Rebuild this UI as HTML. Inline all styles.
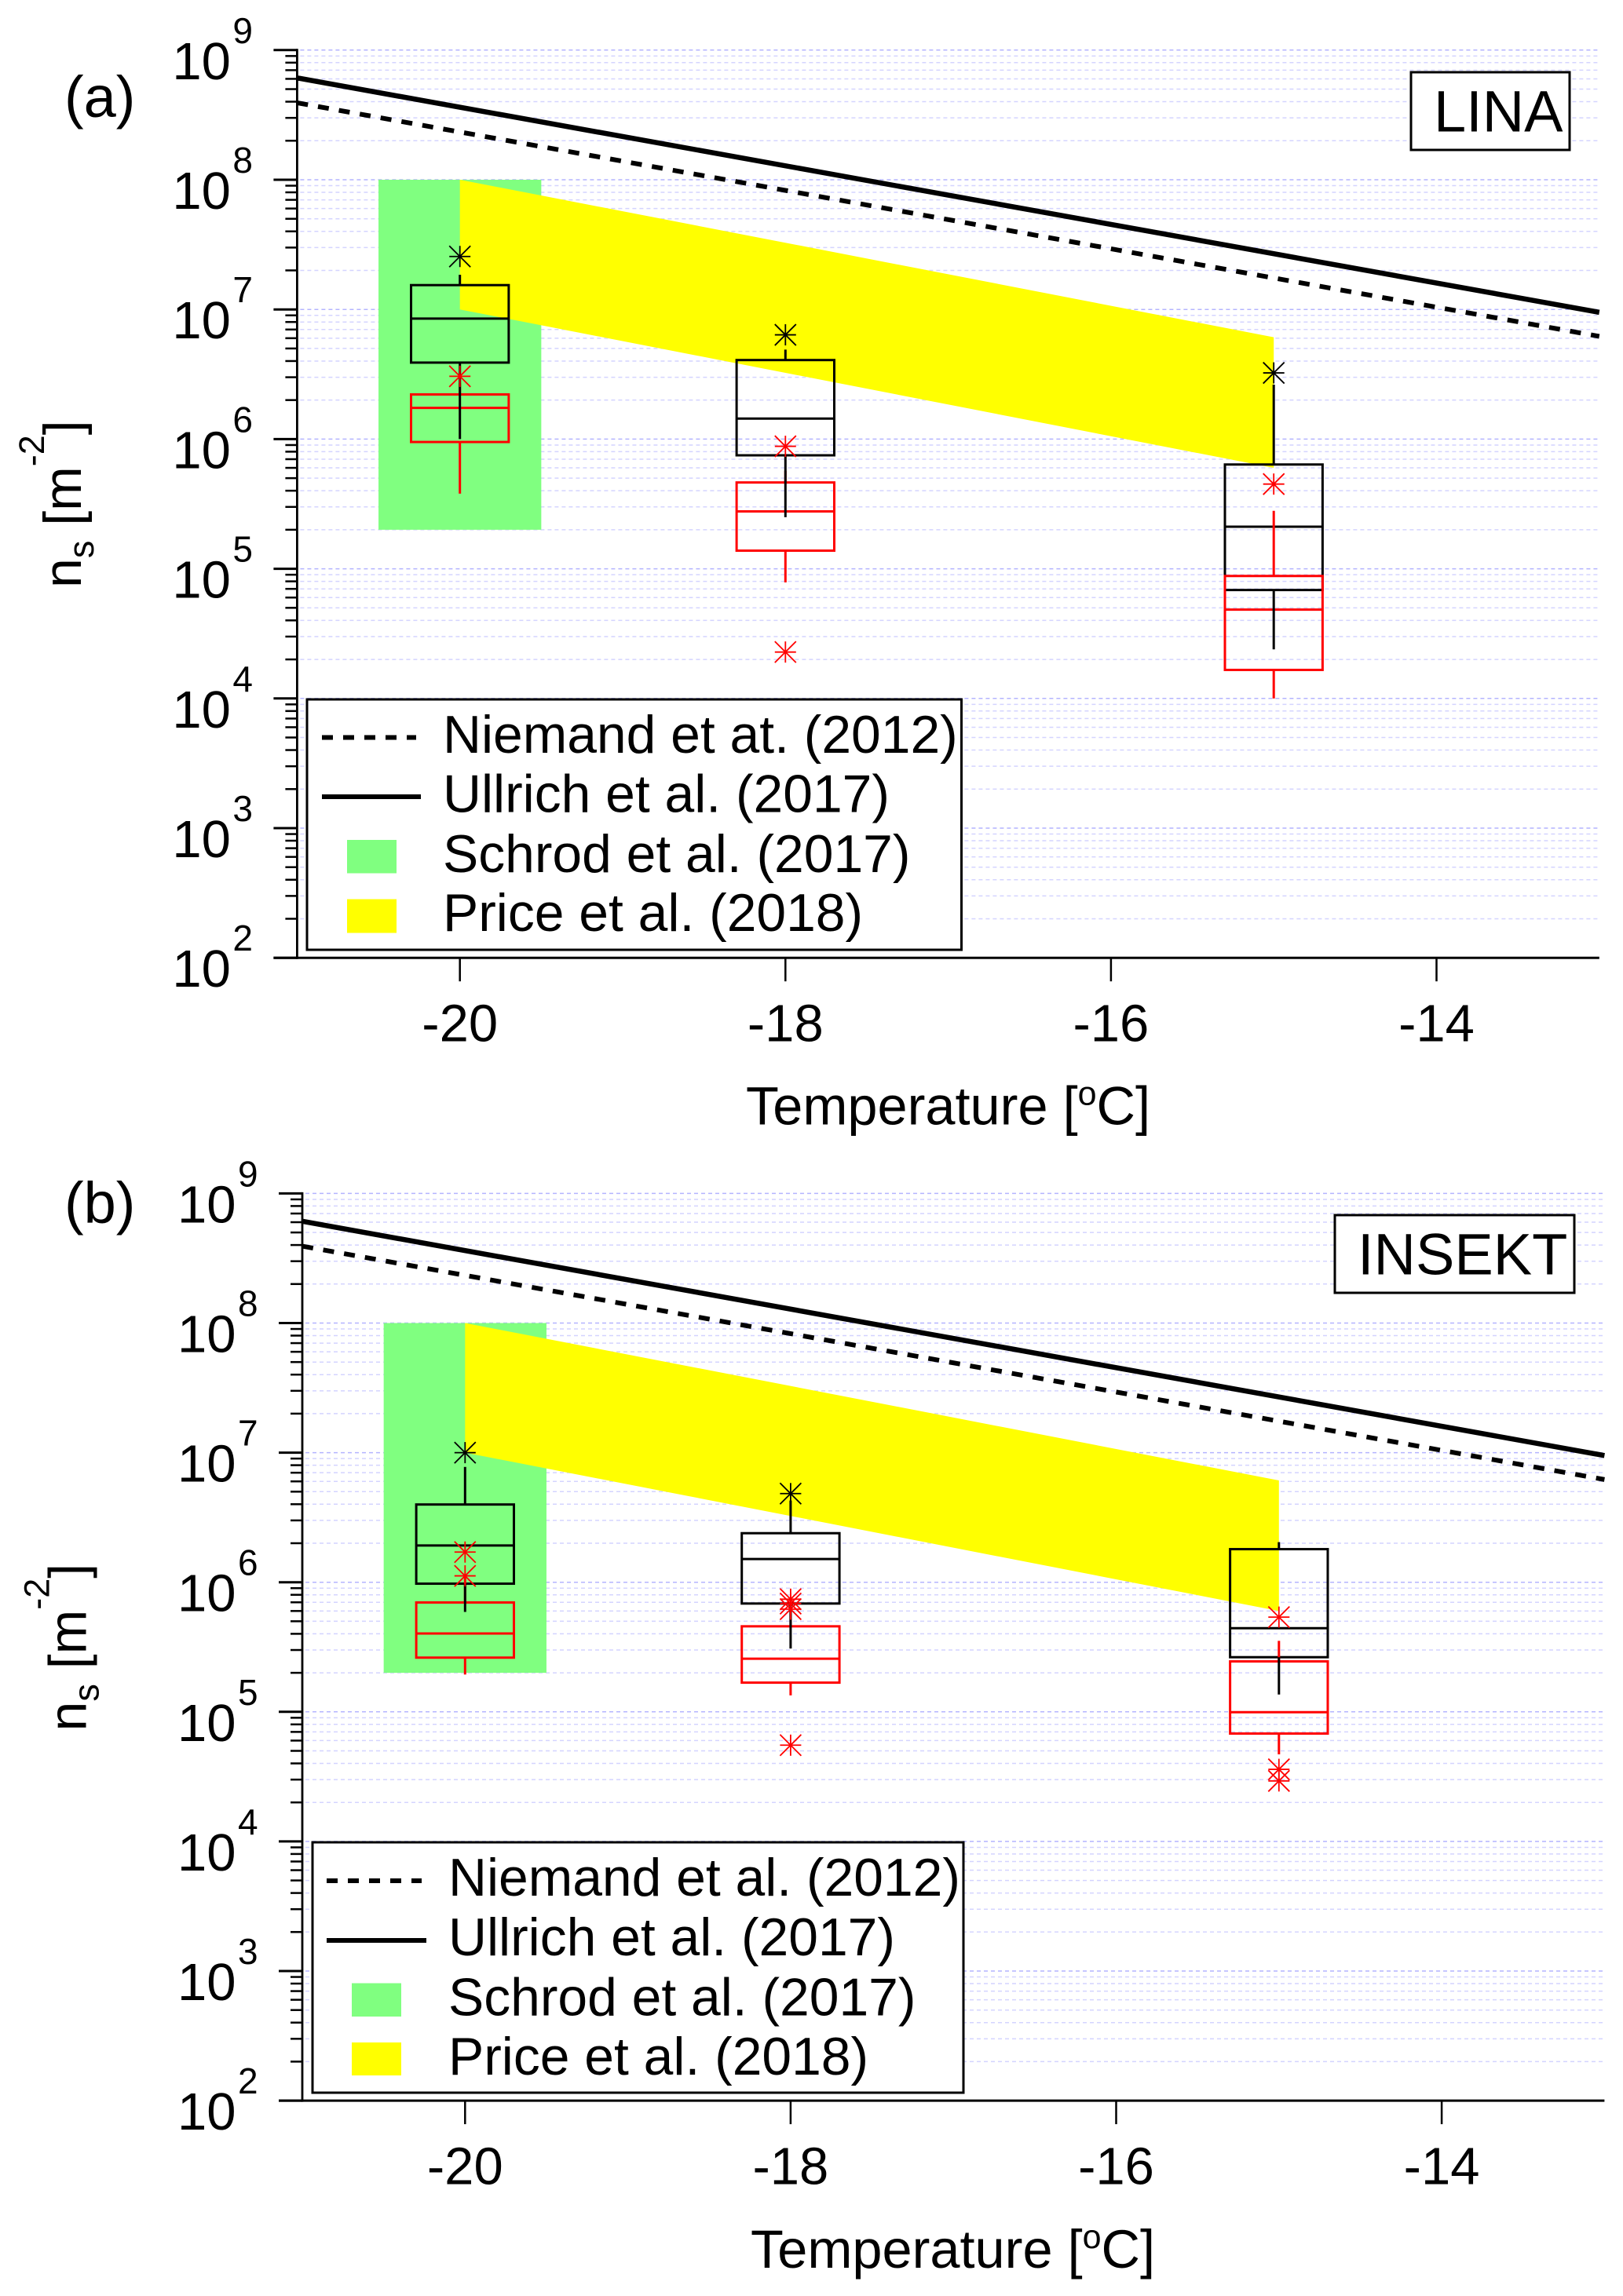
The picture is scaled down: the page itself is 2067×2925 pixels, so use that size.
<!DOCTYPE html>
<html lang="en">
<head>
<meta charset="utf-8">
<title>Ice nucleation site density: LINA and INSEKT</title>
<style>
html,body{margin:0;padding:0;background:#fff;}
svg{display:block;}
text{font-family:"Liberation Sans",Arial,sans-serif;fill:#000;}
</style>
</head>
<body>
<svg id="figure" width="2067" height="2925" viewBox="0 0 2067 2925" xmlns="http://www.w3.org/2000/svg">
  <rect x="0" y="0" width="2067" height="2925" fill="#fff"/>
  <g id="panel-a"></g>
  <g id="panel-b"></g>

  <g id="overlay-a">
    <text x="82" y="149" font-size="74">(a)</text>
    <g>
      <rect x="1797" y="92" width="202" height="99" fill="#fff" stroke="#000" stroke-width="3"/>
      <text x="1826" y="167.5" font-size="74">LINA</text>
    </g>
    <g>
      <rect x="391" y="891" width="833.5" height="319" fill="#fff" stroke="#000" stroke-width="3"/>
      <line x1="410" y1="939.5" x2="530" y2="939.5" stroke="#000" stroke-width="6" stroke-dasharray="14 13"/>
      <text x="564" y="959" font-size="67.8">Niemand et at. (2012)</text>
      <line x1="410" y1="1015" x2="536" y2="1015" stroke="#000" stroke-width="6"/>
      <text x="564" y="1034.5" font-size="67.8">Ullrich et al. (2017)</text>
      <rect x="442" y="1070" width="63" height="42.5" fill="#80ff80"/>
      <text x="564" y="1111" font-size="67.8">Schrod et al. (2017)</text>
      <rect x="442" y="1145.5" width="63" height="43" fill="#ffff00"/>
      <text x="564" y="1186" font-size="67.8">Price et al. (2018)</text>
    </g>
    <text x="950" y="1432.5" font-size="68.5">Temperature [<tspan font-size="43" dy="-25">o</tspan><tspan dy="25">C]</tspan></text>
    <text transform="translate(103 749) rotate(-90)" font-size="68">n<tspan font-size="45" dy="16">s</tspan><tspan dy="-16" xml:space="preserve"> [m</tspan><tspan font-size="45" dy="-47">-2</tspan><tspan dy="47">]</tspan></text>
  </g>

  <g id="overlay-b">
    <text x="82" y="1558" font-size="74">(b)</text>
    <g>
      <rect x="1700" y="1548" width="305" height="99" fill="#fff" stroke="#000" stroke-width="3"/>
      <text x="1729" y="1623.5" font-size="74">INSEKT</text>
    </g>
    <g>
      <rect x="398" y="2347" width="829" height="319" fill="#fff" stroke="#000" stroke-width="3"/>
      <line x1="416" y1="2396" x2="537" y2="2396" stroke="#000" stroke-width="6" stroke-dasharray="14 13"/>
      <text x="571" y="2415" font-size="67.8">Niemand et al. (2012)</text>
      <line x1="416" y1="2472" x2="543" y2="2472" stroke="#000" stroke-width="6"/>
      <text x="571" y="2491" font-size="67.8">Ullrich et al. (2017)</text>
      <rect x="448" y="2526.5" width="63" height="42.5" fill="#80ff80"/>
      <text x="571" y="2567.5" font-size="67.8">Schrod et al. (2017)</text>
      <rect x="448" y="2602" width="63" height="42" fill="#ffff00"/>
      <text x="571" y="2643" font-size="67.8">Price et al. (2018)</text>
    </g>
    <text x="956" y="2889" font-size="68.5">Temperature [<tspan font-size="43" dy="-25">o</tspan><tspan dy="25">C]</tspan></text>
    <text transform="translate(109.5 2205.5) rotate(-90)" font-size="68">n<tspan font-size="45" dy="16">s</tspan><tspan dy="-16" xml:space="preserve"> [m</tspan><tspan font-size="45" dy="-47">-2</tspan><tspan dy="47">]</tspan></text>
  </g>
</svg>

<script>
// Axis tick labels
const xTickLabels = [-20, -18, -16, -14];
const yTickExponents = [2, 3, 4, 5, 6, 7, 8, 9];
const minorMultipliers = [2, 3, 4, 5, 6, 7, 8, 9];

// Box categories (temperature, deg C)
const boxTemps = [-20, -18, -15];

// Parameterisation lines
const lineTemps = [-21, -13];
const ullrichValues = [6.1e8, 9.5e6];
const niemandValues = [3.92e8, 6.2e6];

// Schrod et al. (2017) range
const schrodTemps = [-20.5, -19.5];
const schrodRange = [2e5, 1e8];

// Price et al. (2018) band
const priceTemps = [-20, -15];
const priceUpper = [1e8, 6.1e6];
const priceLower = [1e7, 6e5];

// Panel (a) LINA: black series
const linaBlackQ3 = [1.54e7, 4.07e6, 6.37e5];
const linaBlackMedian = [8.5e6, 1.44e6, 2.11e5];
const linaBlackQ1 = [3.89e6, 7.5e5, 6.86e4];
const linaBlackWhiskerHigh = [1.85e7, 4.9e6, 2.63e6];
const linaBlackWhiskerLow = [1e6, 2.5e5, 2.39e4];
const linaBlackOutliers = [[2.56e7], [6.37e6], [3.24e6]];

// Panel (a) LINA: red series
const linaRedQ3 = [2.21e6, 4.63e5, 8.8e4];
const linaRedMedian = [1.74e6, 2.77e5, 4.84e4];
const linaRedQ1 = [9.5e5, 1.38e5, 1.66e4];
const linaRedWhiskerHigh = [2.7e6, 5.69e5, 2.8e5];
const linaRedWhiskerLow = [3.8e5, 7.85e4, 1e4];
const linaRedOutliers = [[3.05e6], [8.8e5, 2.28e4], [4.5e5]];

// Panel (b) INSEKT: black series
const insektBlackQ3 = [3.98e6, 2.39e6, 1.8e6];
const insektBlackMedian = [1.92e6, 1.51e6, 4.42e5];
const insektBlackQ1 = [9.75e5, 6.85e5, 2.64e5];
const insektBlackWhiskerHigh = [7.76e6, 4.27e6, 2.04e6];
const insektBlackWhiskerLow = [5.9e5, 3.08e5, 1.36e5];
const insektBlackOutliers = [[1e7], [4.83e6], []];

// Panel (b) INSEKT: red series
const insektRedQ3 = [6.98e5, 4.57e5, 2.45e5];
const insektRedMedian = [4.02e5, 2.57e5, 9.93e4];
const insektRedQ1 = [2.62e5, 1.68e5, 6.8e4];
const insektRedWhiskerHigh = [1.13e6, 7e5, 3.53e5];
const insektRedWhiskerLow = [1.94e5, 1.34e5, 4.7e4];
const insektRedOutliers = [[1.71e6, 1.12e6], [7.4e5, 6.85e5, 6.2e5, 5.53e4], [5.38e5, 3.6e4, 2.93e4]];

const SVG_NS = 'http://www.w3.org/2000/svg';

function make(tag, parent, attrs) {
  const el = document.createElementNS(SVG_NS, tag);
  for (const k in attrs) el.setAttribute(k, attrs[k]);
  parent.appendChild(el);
  return el;
}

function drawPanel(root, frame, black, red) {
  const xScale = t => frame.x20 + (t + 20) * frame.unit;
  const yScale = v => frame.top + (9 - Math.log10(v)) * frame.decade;
  const xLeft = xScale(-21);
  const xRight = xScale(-13);
  const yBottom = yScale(1e2);
  const yTop = yScale(1e9);
  const halfWidth = 0.3;

  // grid
  const grid = make('g', root, {});
  
  
  yTickExponents.forEach(exp => {
    const major = make('line', grid, {
      x1: xLeft + 4, x2: xRight, y1: yScale(Math.pow(10, exp)), y2: yScale(Math.pow(10, exp)),
      stroke: '#b4b4ff', 'stroke-width': 1.5, 'stroke-dasharray': '5 4'
    });
    
    
    if (exp === 9) return;
    minorMultipliers.forEach(m => {
      const minor = make('line', grid, {
        x1: xLeft + 4, x2: xRight, y1: yScale(m * Math.pow(10, exp)), y2: yScale(m * Math.pow(10, exp)),
        stroke: '#d4d4ff', 'stroke-width': 1.5, 'stroke-dasharray': '5 4'
      });
      
      
    });
  });

  // Schrod range
  const schrod = make('rect', root, {
    x: xScale(schrodTemps[0]), y: yScale(schrodRange[1]),
    width: xScale(schrodTemps[1]) - xScale(schrodTemps[0]),
    height: yScale(schrodRange[0]) - yScale(schrodRange[1]),
    fill: '#80ff80'
  });
  
  

  // Price band
  const bandPoints = [
    [xScale(priceTemps[0]), yScale(priceUpper[0])],
    [xScale(priceTemps[1]), yScale(priceUpper[1])],
    [xScale(priceTemps[1]), yScale(priceLower[1])],
    [xScale(priceTemps[0]), yScale(priceLower[0])]
  ];
  const price = make('polygon', root, { points: bandPoints.map(p => p.join(',')).join(' '), fill: '#ffff00' });
  
  

  function drawBox(series, i, color, parent) {
    const t = boxTemps[i];
    const rect = make('rect', parent, {
      x: xScale(t - halfWidth), y: yScale(series.q3[i]),
      width: xScale(t + halfWidth) - xScale(t - halfWidth),
      height: yScale(series.q1[i]) - yScale(series.q3[i]),
      fill: 'none', stroke: color, 'stroke-width': 3
    });
    
    
    const med = make('line', parent, {
      x1: xScale(t - halfWidth), x2: xScale(t + halfWidth),
      y1: yScale(series.median[i]), y2: yScale(series.median[i]),
      stroke: color, 'stroke-width': 3
    });
    
    
  }

  function drawWhiskers(series, i, color, parent) {
    const t = boxTemps[i];
    const upper = make('line', parent, {
      x1: xScale(t), x2: xScale(t), y1: yScale(series.whiskerHigh[i]), y2: yScale(series.q3[i]),
      stroke: color, 'stroke-width': 3
    });
    
    
    const lower = make('line', parent, {
      x1: xScale(t), x2: xScale(t), y1: yScale(series.q1[i]), y2: yScale(series.whiskerLow[i]),
      stroke: color, 'stroke-width': 3
    });
    
    
  }

  function drawOutliers(series, i, color, parent) {
    const t = boxTemps[i];
    const r = 13.5;
    series.outliers[i].forEach(v => {
      const cx = xScale(t);
      const cy = yScale(v);
      const star = make('g', parent, { stroke: color, 'stroke-width': 1.8 });
      
      
      make('line', star, { x1: cx - r, x2: cx + r, y1: cy, y2: cy });
      make('line', star, { x1: cx, x2: cx, y1: cy - r, y2: cy + r });
      make('line', star, { x1: cx - r, x2: cx + r, y1: cy - r, y2: cy + r });
      make('line', star, { x1: cx - r, x2: cx + r, y1: cy + r, y2: cy - r });
    });
  }

  const boxes = make('g', root, {});
  
  
  boxTemps.forEach((t, i) => {
    drawBox(black, i, '#000', boxes);
    drawBox(red, i, '#ff0000', boxes);
    drawWhiskers(red, i, '#ff0000', boxes);
    drawWhiskers(black, i, '#000', boxes);
    drawOutliers(black, i, '#000', boxes);
    drawOutliers(red, i, '#ff0000', boxes);
  });

  // parameterisation lines
  const niemand = make('line', root, {
    x1: xScale(lineTemps[0]), y1: yScale(niemandValues[0]),
    x2: xScale(lineTemps[1]), y2: yScale(niemandValues[1]),
    stroke: '#000', 'stroke-width': 6, 'stroke-dasharray': '14 13'
  });
  
  
  const ullrich = make('line', root, {
    x1: xScale(lineTemps[0]), y1: yScale(ullrichValues[0]),
    x2: xScale(lineTemps[1]), y2: yScale(ullrichValues[1]),
    stroke: '#000', 'stroke-width': 6.5
  });
  
  

  // y axis
  const yAxis = make('g', root, {});
  
  
  const yLine = make('line', yAxis, { x1: xLeft, x2: xLeft, y1: yTop - 1.5, y2: yBottom + 1.5, stroke: '#000', 'stroke-width': 2.8 });
  
  
  yTickExponents.forEach(exp => {
    const y = yScale(Math.pow(10, exp));
    const tick = make('line', yAxis, { x1: xLeft - 30, x2: xLeft, y1: y, y2: y, stroke: '#000', 'stroke-width': 3 });
    
    
    const base = make('text', yAxis, { x: xLeft - 159, y: y + 37, 'font-size': 67 });
    base.textContent = '10';
    
    
    const sup = make('text', yAxis, { x: xLeft - 82, y: y - 9, 'font-size': 46 });
    sup.textContent = String(exp);
    
    
    if (exp === 9) return;
    minorMultipliers.forEach(m => {
      const ym = yScale(m * Math.pow(10, exp));
      const mt = make('line', yAxis, { x1: xLeft - 15, x2: xLeft, y1: ym, y2: ym, stroke: '#000', 'stroke-width': 2.5 });
      
      
    });
  });

  // x axis
  const xAxis = make('g', root, {});
  
  
  const xLine = make('line', xAxis, { x1: xLeft - 30, x2: xRight, y1: yBottom, y2: yBottom, stroke: '#000', 'stroke-width': 3 });
  
  
  xTickLabels.forEach(t => {
    const tick = make('line', xAxis, { x1: xScale(t), x2: xScale(t), y1: yBottom, y2: yBottom + 30, stroke: '#000', 'stroke-width': 2.5 });
    
    
    const label = make('text', xAxis, { x: xScale(t), y: yBottom + 106.5, 'font-size': 67, 'text-anchor': 'middle' });
    label.textContent = String(t);
    
    
  });
}

drawPanel(
  document.getElementById('panel-a'),
  { x20: 585.7, unit: 207.3, top: 63.8, decade: 165.2 },
  { name: 'lina-black', q3: linaBlackQ3, median: linaBlackMedian, q1: linaBlackQ1, whiskerHigh: linaBlackWhiskerHigh, whiskerLow: linaBlackWhiskerLow, outliers: linaBlackOutliers },
  { name: 'lina-red', q3: linaRedQ3, median: linaRedMedian, q1: linaRedQ1, whiskerHigh: linaRedWhiskerHigh, whiskerLow: linaRedWhiskerLow, outliers: linaRedOutliers }
);
drawPanel(
  document.getElementById('panel-b'),
  { x20: 592.3, unit: 207.3, top: 1520.4, decade: 165.1 },
  { name: 'insekt-black', q3: insektBlackQ3, median: insektBlackMedian, q1: insektBlackQ1, whiskerHigh: insektBlackWhiskerHigh, whiskerLow: insektBlackWhiskerLow, outliers: insektBlackOutliers },
  { name: 'insekt-red', q3: insektRedQ3, median: insektRedMedian, q1: insektRedQ1, whiskerHigh: insektRedWhiskerHigh, whiskerLow: insektRedWhiskerLow, outliers: insektRedOutliers }
);
</script>
</body>
</html>
